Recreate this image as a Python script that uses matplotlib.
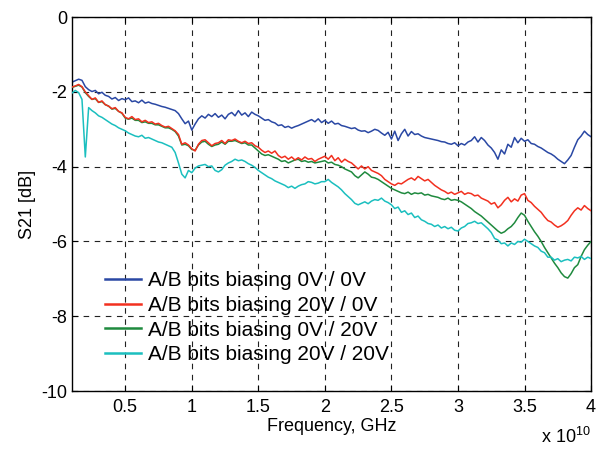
import numpy as np
import matplotlib.pyplot as plt

plt.rcParams['font.family'] = ['Liberation Sans', 'DejaVu Sans']
plt.rcParams['mathtext.fontset'] = 'custom'
plt.rcParams['mathtext.rm'] = 'Liberation Sans'
plt.rcParams['axes.unicode_minus'] = False

# frequency sweep, in units of 1e10 Hz (0.1 ... 4.0, step 0.025)
freq = np.linspace(0.1, 4.0, 157)

# S21 [dB]
s21_0v_0v = [
    -1.74, -1.70, -1.66, -1.69, -1.86, -1.94, -1.99, -1.96, -2.05, -2.01, -2.09, -2.12,
    -2.19, -2.15, -2.23, -2.18, -2.21, -2.16, -2.26, -2.24, -2.29, -2.22, -2.30, -2.27,
    -2.31, -2.33, -2.36, -2.39, -2.41, -2.44, -2.47, -2.50, -2.58, -2.72, -2.85, -2.78,
    -3.02, -2.86, -2.72, -2.64, -2.70, -2.60, -2.66, -2.58, -2.68, -2.62, -2.72, -2.60,
    -2.55, -2.64, -2.50, -2.62, -2.56, -2.66, -2.54, -2.60, -2.64, -2.70, -2.76, -2.74,
    -2.80, -2.83, -2.90, -2.88, -2.95, -2.92, -2.97, -2.93, -2.90, -2.86, -2.82, -2.78,
    -2.74, -2.80, -2.72, -2.82, -2.76, -2.84, -2.78, -2.86, -2.84, -2.90, -2.92, -2.95,
    -2.98, -2.96, -3.02, -3.05, -3.04, -3.09, -3.05, -3.00, -3.03, -3.10, -3.16, -3.08,
    -3.26, -3.05, -3.30, -3.12, -3.00, -3.18, -3.06, -3.14, -3.12, -3.18, -3.22, -3.24,
    -3.26, -3.28, -3.30, -3.33, -3.34, -3.38, -3.40, -3.36, -3.44, -3.38, -3.42, -3.34,
    -3.30, -3.20, -3.34, -3.22, -3.30, -3.42, -3.50, -3.62, -3.80, -3.55, -3.66, -3.40,
    -3.48, -3.22, -3.36, -3.24, -3.32, -3.28, -3.38, -3.40, -3.46, -3.50, -3.56, -3.62,
    -3.66, -3.72, -3.80, -3.86, -3.92, -3.82, -3.70, -3.48, -3.28, -3.18, -3.05, -3.14,
    -3.20]
s21_20v_0v = [
    -1.87, -1.84, -1.80, -1.86, -2.00, -2.10, -2.20, -2.16, -2.28, -2.24, -2.34, -2.38,
    -2.45, -2.42, -2.52, -2.56, -2.68, -2.72, -2.66, -2.74, -2.72, -2.80, -2.76, -2.82,
    -2.80, -2.86, -2.84, -2.90, -2.94, -2.92, -2.98, -3.04, -3.14, -3.40, -3.36, -3.42,
    -3.52, -3.58, -3.40, -3.30, -3.28, -3.36, -3.44, -3.38, -3.36, -3.30, -3.38, -3.28,
    -3.30, -3.26, -3.32, -3.36, -3.32, -3.38, -3.36, -3.44, -3.48, -3.56, -3.62, -3.58,
    -3.64, -3.58, -3.70, -3.76, -3.72, -3.80, -3.74, -3.82, -3.76, -3.82, -3.74, -3.80,
    -3.78, -3.86, -3.80, -3.76, -3.72, -3.80, -3.70, -3.84, -3.76, -3.88, -3.80, -3.86,
    -3.90, -3.98, -4.06, -3.98, -4.06, -4.00, -4.10, -4.14, -4.18, -4.24, -4.34, -4.40,
    -4.46, -4.50, -4.44, -4.46, -4.40, -4.34, -4.30, -4.36, -4.26, -4.32, -4.38, -4.34,
    -4.42, -4.50, -4.56, -4.62, -4.66, -4.72, -4.68, -4.74, -4.70, -4.66, -4.74, -4.70,
    -4.72, -4.78, -4.76, -4.84, -4.88, -4.92, -5.00, -4.96, -5.10, -5.02, -4.90, -4.82,
    -4.94, -4.86, -4.92, -4.76, -4.72, -4.90, -4.96, -5.06, -5.14, -5.22, -5.34, -5.44,
    -5.48, -5.56, -5.62, -5.58, -5.52, -5.44, -5.30, -5.18, -5.10, -5.16, -5.04, -5.12,
    -5.18]
s21_0v_20v = [
    -1.88, -1.85, -1.82, -1.87, -2.02, -2.12, -2.20, -2.18, -2.28, -2.26, -2.34, -2.38,
    -2.46, -2.44, -2.52, -2.57, -2.70, -2.73, -2.70, -2.76, -2.76, -2.82, -2.80, -2.84,
    -2.84, -2.88, -2.88, -2.92, -2.96, -2.96, -3.00, -3.06, -3.18, -3.42, -3.40, -3.44,
    -3.54, -3.56, -3.42, -3.34, -3.32, -3.40, -3.46, -3.42, -3.40, -3.34, -3.40, -3.32,
    -3.32, -3.30, -3.34, -3.38, -3.36, -3.42, -3.42, -3.50, -3.58, -3.66, -3.70, -3.68,
    -3.72, -3.76, -3.80, -3.86, -3.84, -3.90, -3.86, -3.82, -3.80, -3.86, -3.84, -3.88,
    -3.86, -3.90, -3.88, -3.86, -3.84, -3.90, -3.88, -3.94, -3.96, -4.00, -4.06, -4.10,
    -4.14, -4.24, -4.30, -4.22, -4.14, -4.20, -4.28, -4.30, -4.34, -4.40, -4.46, -4.52,
    -4.58, -4.62, -4.66, -4.70, -4.72, -4.68, -4.74, -4.70, -4.72, -4.70, -4.76, -4.74,
    -4.78, -4.80, -4.82, -4.86, -4.88, -4.84, -4.90, -4.88, -4.90, -4.94, -5.00, -5.06,
    -5.12, -5.20, -5.26, -5.32, -5.40, -5.48, -5.56, -5.64, -5.72, -5.78, -5.74, -5.66,
    -5.60, -5.50, -5.36, -5.24, -5.30, -5.46, -5.60, -5.74, -5.86, -6.00, -6.16, -6.30,
    -6.44, -6.58, -6.70, -6.84, -6.94, -6.98, -6.86, -6.70, -6.62, -6.40, -6.22, -6.10,
    -6.00]
s21_20v_20v = [
    -2.03, -1.96, -2.02, -2.20, -3.74, -2.42, -2.50, -2.56, -2.64, -2.68, -2.74, -2.80,
    -2.86, -2.90, -2.96, -3.00, -3.04, -3.10, -3.14, -3.18, -3.20, -3.16, -3.24, -3.22,
    -3.26, -3.30, -3.34, -3.36, -3.40, -3.44, -3.48, -3.62, -3.90, -4.20, -4.30, -4.10,
    -4.16, -4.04, -3.98, -3.96, -3.94, -4.00, -3.98, -4.10, -4.14, -4.08, -3.96, -3.90,
    -3.86, -3.80, -3.84, -3.82, -3.86, -3.92, -3.96, -4.02, -4.10, -4.16, -4.22, -4.28,
    -4.32, -4.38, -4.42, -4.46, -4.50, -4.56, -4.52, -4.58, -4.52, -4.48, -4.46, -4.40,
    -4.42, -4.46, -4.44, -4.40, -4.40, -4.34, -4.42, -4.48, -4.54, -4.62, -4.72, -4.80,
    -4.88, -4.98, -5.02, -4.98, -4.94, -4.99, -4.92, -4.88, -4.90, -4.84, -4.92, -4.96,
    -5.02, -5.12, -5.08, -5.22, -5.18, -5.28, -5.24, -5.36, -5.32, -5.42, -5.46, -5.52,
    -5.54, -5.60, -5.56, -5.64, -5.60, -5.66, -5.62, -5.70, -5.72, -5.64, -5.60, -5.52,
    -5.50, -5.46, -5.52, -5.50, -5.58, -5.66, -5.76, -5.92, -5.96, -6.06, -6.04, -6.12,
    -6.04, -6.08, -6.00, -6.02, -5.94, -6.00, -6.06, -6.12, -6.16, -6.26, -6.30, -6.42,
    -6.42, -6.50, -6.46, -6.54, -6.50, -6.48, -6.52, -6.42, -6.44, -6.40, -6.48, -6.42,
    -6.46]

labels = ['A/B bits biasing 0V / 0V', 'A/B bits biasing 20V / 0V',
          'A/B bits biasing 0V / 20V', 'A/B bits biasing 20V / 20V']
colors = ['#2a48a4', '#f2301f', '#1f8a3e', '#1bbfbf']

fig = plt.figure(figsize=(6.05, 4.51), dpi=100)
ax = fig.add_axes([0.119, 0.133, 0.858, 0.829])

series = [s21_0v_0v, s21_20v_0v, s21_0v_20v, s21_20v_20v]
zorders = [2, 4, 3, 5]
for y, lab, c, z in zip(series, labels, colors, zorders):
    ax.plot(freq, y, color=c, lw=1.1, label=lab, zorder=z)

ax.set_xlim(0.1, 4.0)
ax.set_ylim(-10, 0)
ax.set_xticks([0.5, 1, 1.5, 2, 2.5, 3, 3.5, 4])
ax.set_xticklabels(['0.5', '1', '1.5', '2', '2.5', '3', '3.5', '4'])
ax.set_yticks([-10, -8, -6, -4, -2, 0])
ax.grid(True, color='#222222', lw=0.8, linestyle=(0, (5, 5)))
ax.tick_params(direction='in', length=4, top=True, right=True, labelsize=13)
ax.tick_params(axis='x', pad=6)
for sp in ax.spines.values():
    sp.set_linewidth(1.0)

ax.set_xlabel('Frequency, GHz', fontsize=13, labelpad=1)
ax.set_ylabel('S21 [dB]', fontsize=13, labelpad=4)
ax.text(1.0, -0.123, 'x 10$^{10}$', transform=ax.transAxes, fontsize=13,
        ha='right', va='center')

leg = ax.legend(loc='upper left', bbox_to_anchor=(0.063, 0.32), frameon=False,
                fontsize=15, handlelength=1.75, handletextpad=0.35,
                labelspacing=0.27, borderpad=0, borderaxespad=0)
for h in leg.get_lines():
    h.set_linewidth(1.8)

fig.savefig('out.png', dpi=100)
